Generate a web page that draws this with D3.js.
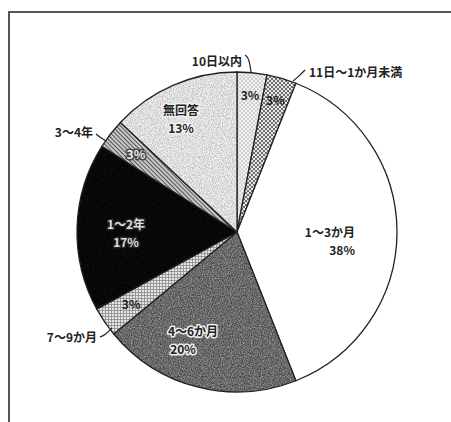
<!DOCTYPE html>
<html>
<head>
<meta charset="utf-8">
<script src="https://cdn.jsdelivr.net/npm/d3@7"></script>
<style>
  body { margin: 0; background: #fff; }
  text { font-family: "Noto Sans CJK JP", "Noto Sans", sans-serif; font-weight: bold; }
</style>
</head>
<body>
<div id="chart"></div>
<script>
// Chart data, clockwise from 12 o'clock
const categories = ["10日以内", "11日〜1か月未満", "1〜3か月", "4〜6か月", "7〜9か月", "1〜2年", "3〜4年", "無回答"];
const values = [3, 3, 38, 20, 3, 17, 3, 13];
const pctLabels = ["3%", "3%", "38%", "20%", "3%", "17%", "3%", "13%"];

document.addEventListener("DOMContentLoaded", function () {
  const width = 451,
    height = 422;
  const cx = 237,
    cy = 232,
    r = 160;

  const svg = d3
    .select("#chart")
    .append("svg")
    .attr("width", width)
    .attr("height", height);

  const defs = svg.append("defs");

  // noise filter for the scanned-looking grey slices
  function noiseFilter(id, freq, lo, hi) {
    const f = defs.append("filter").attr("id", id).attr("x", 0).attr("y", 0).attr("width", 1).attr("height", 1);
    f.append("feTurbulence").attr("type", "fractalNoise").attr("baseFrequency", freq).attr("numOctaves", 2).attr("seed", 3);
    f.append("feColorMatrix").attr("type", "matrix")
      .attr("values", "0 0 0 0 0  0 0 0 0 0  0 0 0 0 0  1 0 0 0 0");
    f.append("feComponentTransfer").append("feFuncA").attr("type", "linear").attr("slope", hi).attr("intercept", lo);
    f.append("feComposite").attr("in2", "SourceGraphic").attr("operator", "in");
  }
  noiseFilter("noiseDark", 0.9, -0.05, 0.9);
  noiseFilter("noiseLight", 0.9, -0.2, 0.55);
  noiseFilter("noiseBlack", 0.9, 0.55, 0.6);

  function noisePattern(id, bg, filterId) {
    const p = defs.append("pattern").attr("id", id).attr("patternUnits", "userSpaceOnUse")
      .attr("width", 120).attr("height", 120);
    p.append("rect").attr("width", 120).attr("height", 120).attr("fill", bg);
    p.append("rect").attr("width", 120).attr("height", 120).attr("fill", "#000")
      .attr("filter", `url(#${filterId})`);
  }
  noisePattern("pDark", "#b0b0b0", "noiseDark");
  noisePattern("pLight", "#f0f0f0", "noiseLight");
  noisePattern("pBlack", "#333", "noiseBlack");

  // dotted patterns
  function dotPattern(id, size, rad, bg, dot) {
    const p = defs.append("pattern").attr("id", id).attr("patternUnits", "userSpaceOnUse")
      .attr("width", size).attr("height", size);
    p.append("rect").attr("width", size).attr("height", size).attr("fill", bg);
    p.append("circle").attr("cx", size / 4).attr("cy", size / 4).attr("r", rad).attr("fill", dot);
    p.append("circle").attr("cx", (3 * size) / 4).attr("cy", (3 * size) / 4).attr("r", rad).attr("fill", dot);
  }
  dotPattern("pDotFine", 4, 0.6, "#f0f0f0", "#666");
  dotPattern("pDotCoarse", 4, 0.9, "#e8e8e8", "#333");

  // grid pattern (7〜9か月)
  const grid = defs.append("pattern").attr("id", "pGrid").attr("patternUnits", "userSpaceOnUse")
    .attr("width", 3).attr("height", 3);
  grid.append("rect").attr("width", 3).attr("height", 3).attr("fill", "#e6e6e6");
  grid.append("path").attr("d", "M0,0.5H3M0.5,0V3").attr("stroke", "#888").attr("stroke-width", 0.8);

  // diagonal hatch (3〜4年)
  const hatch = defs.append("pattern").attr("id", "pHatch").attr("patternUnits", "userSpaceOnUse")
    .attr("width", 3).attr("height", 3).attr("patternTransform", "rotate(45)");
  hatch.append("rect").attr("width", 3).attr("height", 3).attr("fill", "#c8c8c8");
  hatch.append("path").attr("d", "M0,1.5H3").attr("stroke", "#555").attr("stroke-width", 1);

  const fills = {
    "10日以内": "url(#pDotFine)",
    "11日〜1か月未満": "url(#pDotCoarse)",
    "1〜3か月": "#fff",
    "4〜6か月": "url(#pDark)",
    "7〜9か月": "url(#pGrid)",
    "1〜2年": "url(#pBlack)",
    "3〜4年": "url(#pHatch)",
    "無回答": "url(#pLight)"
  };

  // frame (scanned page border)
  svg.append("path")
    .attr("d", `M9,${height}V12H${width}`)
    .attr("fill", "none")
    .attr("stroke", "#555")
    .attr("stroke-width", 2);

  const pie = d3.pie().sort(null).value((d) => d.value);
  const arc = d3.arc().innerRadius(0).outerRadius(r);
  const data = categories.map((c, i) => ({ cat: c, value: values[i], pct: pctLabels[i] }));
  const arcs = pie(data);

  const g = svg.append("g").attr("transform", `translate(${cx},${cy})`);

  g.selectAll("path.slice")
    .data(arcs)
    .enter()
    .append("path")
    .attr("class", "slice")
    .attr("d", arc)
    .attr("fill", (d) => fills[d.data.cat])
    .attr("stroke", "#222")
    .attr("stroke-width", 1.3);

  // label text helper
  function label(x, y, str, opts = {}) {
    const t = g.append("text")
      .attr("x", x)
      .attr("y", y)
      .attr("text-anchor", opts.anchor || "middle")
      .attr("font-size", opts.size || 12)
      .attr("fill", opts.fill || "#222")
      .text(str);
    if (opts.halo) {
      t.attr("stroke", opts.halo).attr("stroke-width", 3).attr("paint-order", "stroke").attr("stroke-linejoin", "round");
    }
    return t;
  }

  // place a label along a slice's bisector at radius fraction k
  function inside(i, k) {
    const a = (arcs[i].startAngle + arcs[i].endAngle) / 2;
    return [Math.sin(a) * r * k, -Math.cos(a) * r * k];
  }

  // percentages inside narrow slices
  [[0, 0.86], [1, 0.86], [4, 0.8], [6, 0.8]].forEach(([i, k]) => {
    const [x, y] = inside(i, k);
    label(x, y + 5, arcs[i].data.pct, { fill: i === 6 ? "#eee" : "#222", halo: i === 6 ? "#444" : null });
  });

  // big slices: name + percentage
  function bigLabel(i, dx, dy, opts) {
    label(dx, dy, arcs[i].data.cat, opts);
    label(dx + (opts.pdx || 0), dy + 17.5, arcs[i].data.pct, opts);
  }
  bigLabel(2, 118, 5, { anchor: "end" });
  bigLabel(3, -44, 104, { halo: "#eee", pdx: -10 });
  bigLabel(5, -111, -3, { fill: "#ddd", halo: "#222" });
  bigLabel(7, -56, -117, { halo: "#f2f2f2" });

  // outside labels with leader lines
  const leader = d3.line().curve(d3.curveBasis);
  function outside(i, tx, ty, anchor, pts) {
    label(tx, ty, arcs[i].data.cat, { anchor: anchor });
    g.append("path")
      .attr("d", leader(pts))
      .attr("fill", "none")
      .attr("stroke", "#222")
      .attr("stroke-width", 1.2);
  }
  outside(0, 5, -166, "end", [[8, -177], [12, -174], [14, -160]]);
  outside(1, 72, -155, "start", [[68, -162], [62, -156], [56, -151]]);
  outside(6, -144, -95, "end", [[-141, -98], [-136, -94], [-131, -91]]);
  outside(4, -140, 110, "end", [[-137, 105], [-132, 103], [-125, 96]]);
});
</script>
</body>
</html>
